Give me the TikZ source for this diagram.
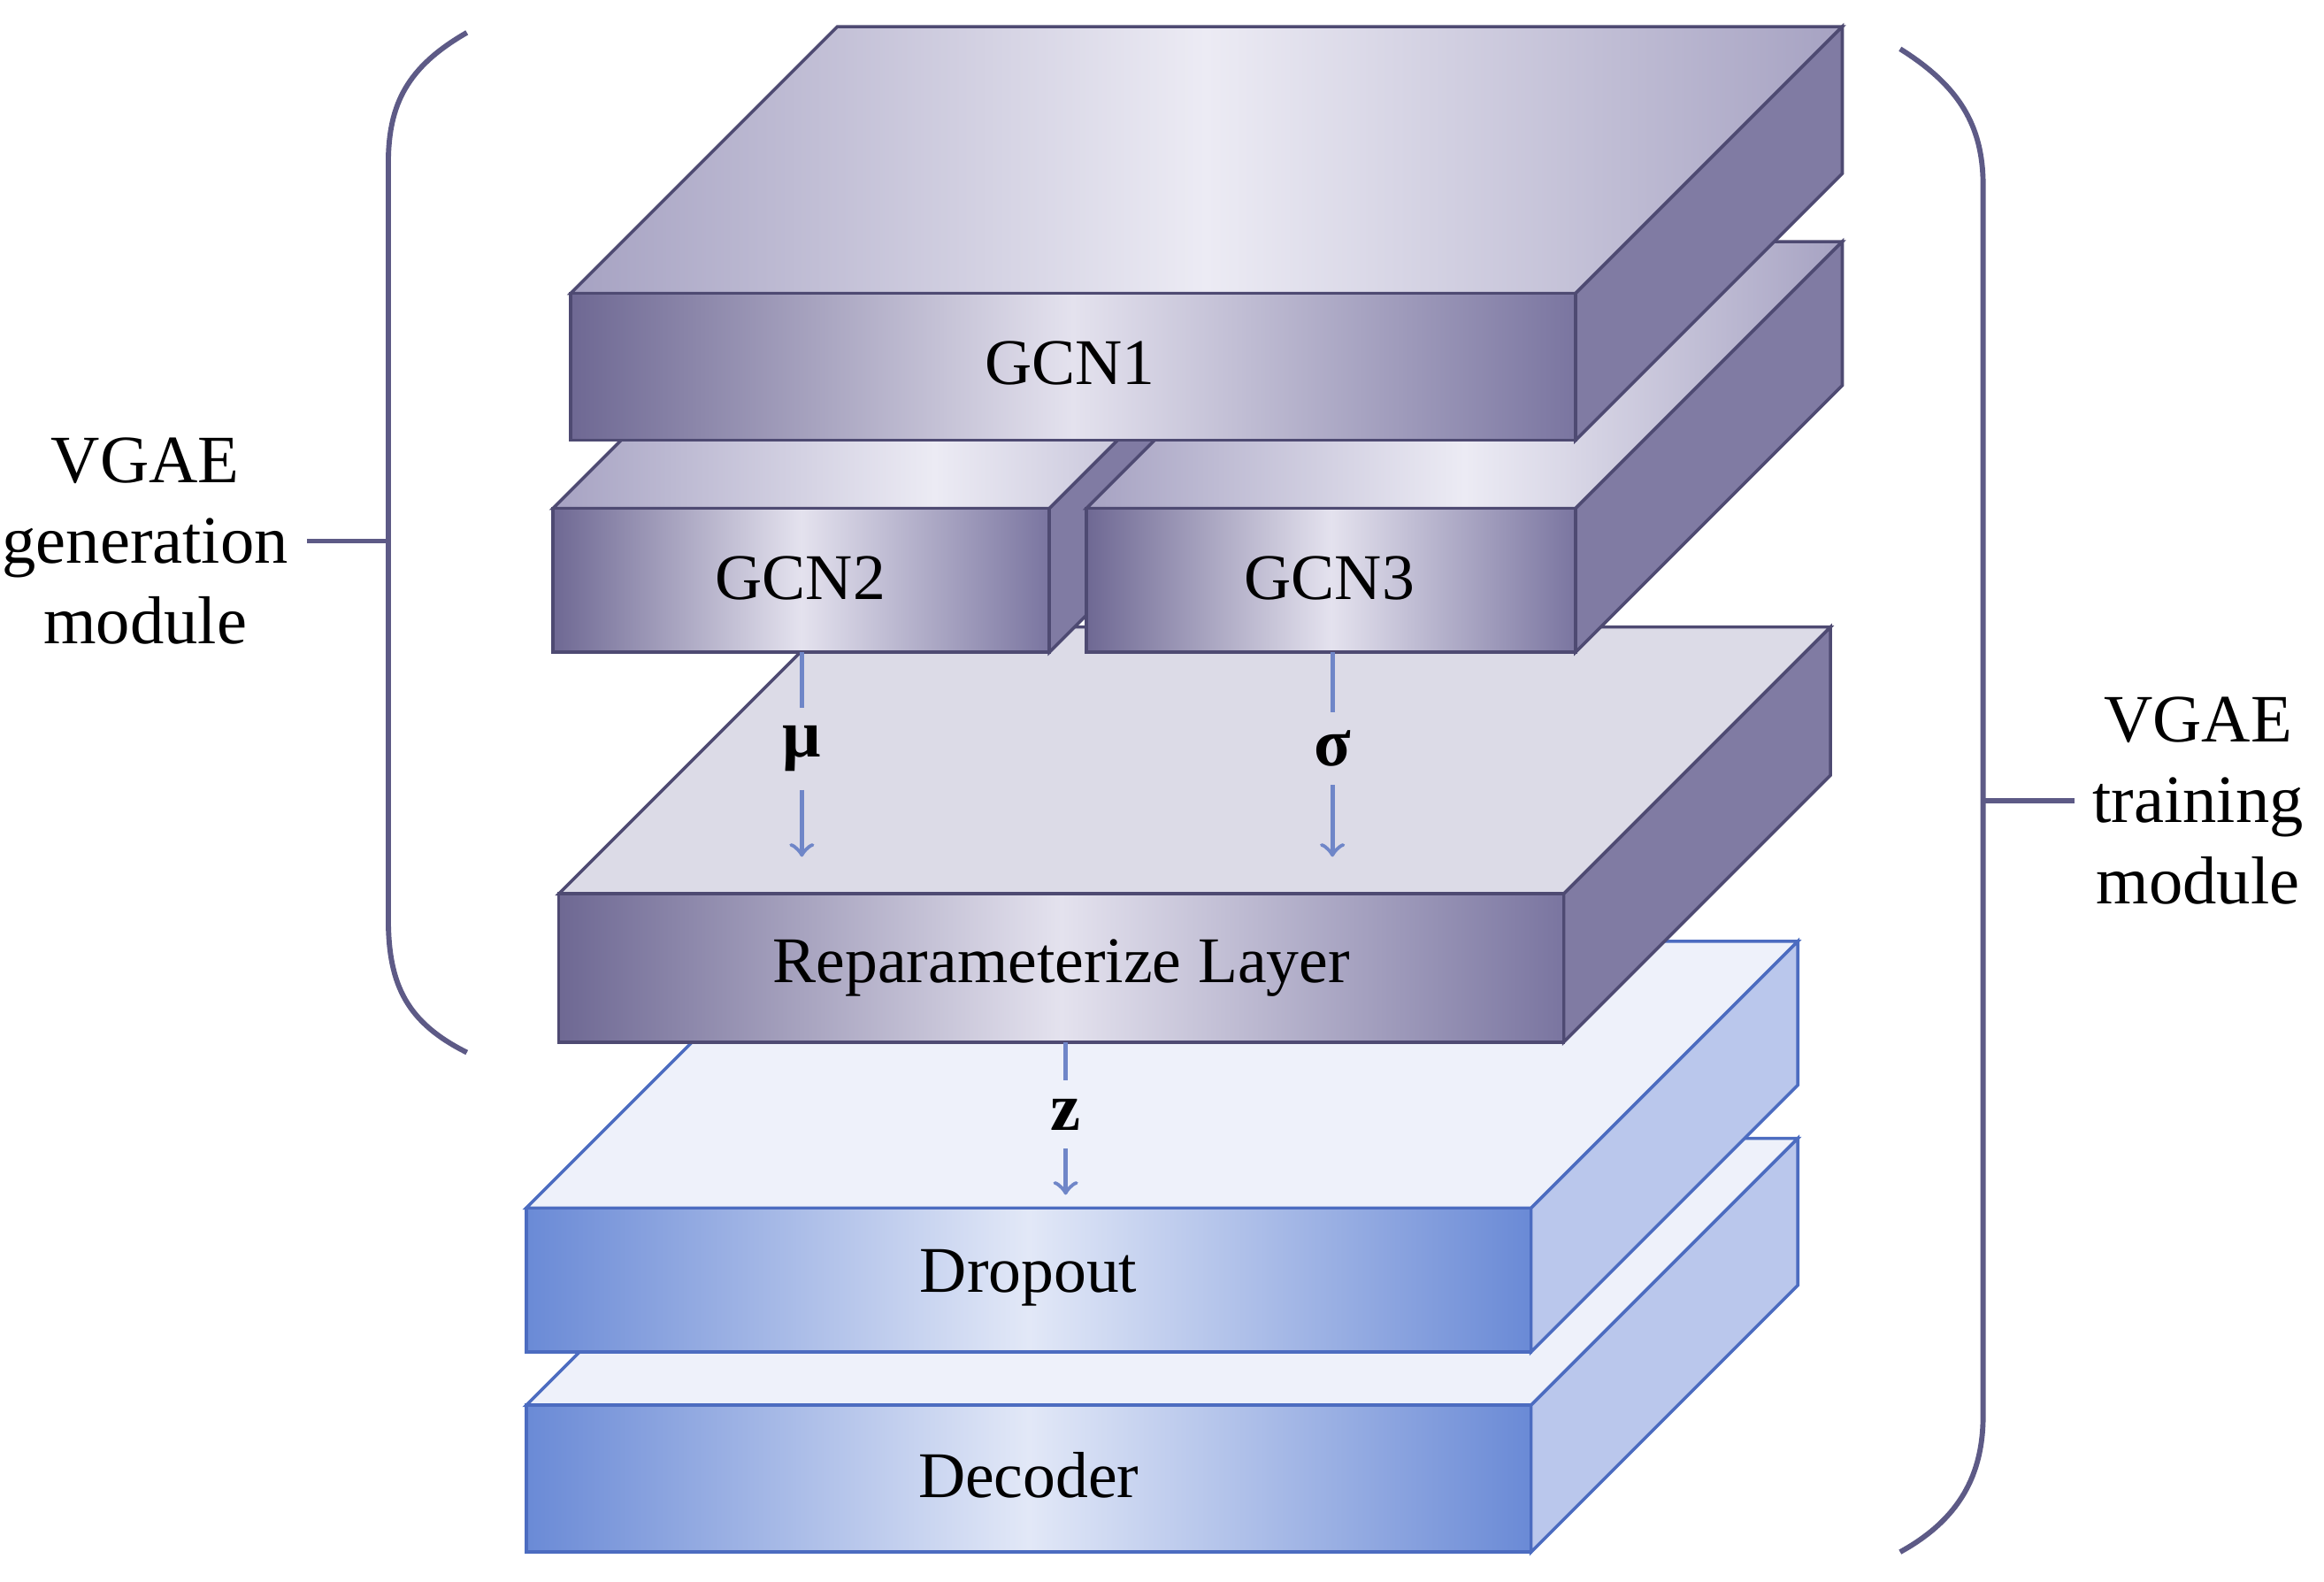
\documentclass[tikz,border=0pt]{standalone}
\usepackage{fontspec}
\setmainfont{Liberation Serif}
\begin{document}
\begin{tikzpicture}[x=0.01cm,y=-0.01cm,
  pfront/.style={left color=pdark,right color=pdark2,middle color=plight,draw=pedge,line width=0.6pt},
  ptop/.style={left color=ptopA,right color=ptopA,middle color=ptopB,draw=pedge,line width=0.6pt},
  pside/.style={fill=pside,draw=pedge,line width=0.6pt},
  rtop/.style={fill=rtop,draw=pedge,line width=0.6pt},
  bfront/.style={left color=bdark,right color=bdark,middle color=blight,draw=bedge,line width=0.6pt},
  btop/.style={fill=btop,draw=bedge,line width=0.6pt},
  bside/.style={fill=bside,draw=bedge,line width=0.6pt},
  lbl/.style={font=\fontsize{12.5}{14}\selectfont},
  sym/.style={font=\bfseries\fontsize{13}{14}\selectfont},
  conn/.style={draw=lineblue,line width=0.8pt},
  brace/.style={draw=braceC,line width=1pt}]
\definecolor{pdark}{HTML}{6E6893}\definecolor{pdark2}{HTML}{7A75A0}
\definecolor{plight}{HTML}{E4E2EE}\definecolor{pedge}{HTML}{4E4A72}
\definecolor{ptopA}{HTML}{A6A2C2}\definecolor{ptopB}{HTML}{ECEBF4}
\definecolor{pside}{HTML}{807BA3}\definecolor{rtop}{HTML}{DCDBE7}
\definecolor{bdark}{HTML}{6A8AD6}\definecolor{blight}{HTML}{E2E8F7}
\definecolor{bedge}{HTML}{4C6CC0}\definecolor{btop}{HTML}{EEF1FA}
\definecolor{bside}{HTML}{BAC7EC}\definecolor{lineblue}{HTML}{6F86C8}
\definecolor{braceC}{HTML}{5D5A86}
\useasboundingbox (0,0) rectangle (1568,1067);
\newcommand\myslab[6]{%
  \path[#6] (#2,#4) -- ++(180,-180) -- ++(#3-#2,0) -- (#3,#4) -- cycle;
  \path[#1side] (#3,#4) -- ++(180,-180) -- ++(0,#5-#4) -- (#3,#5) -- cycle;
  \path[#1front] (#2,#4) rectangle (#3,#5);}
\myslab{b}{355}{1033}{948}{1047}{btop}
\myslab{b}{355}{1033}{815}{912}{btop}
\myslab{p}{377}{1055}{603}{703}{rtop}
\myslab{p}{373}{708}{343}{440}{ptop}
\myslab{p}{733}{1063}{343}{440}{ptop}
\myslab{p}{385}{1063}{198}{297}{ptop}
\node[lbl] (g1) at (722,245) {GCN1};
\node[lbl] (g2) at (540,390) {GCN2};
\node[lbl] (g3) at (897,390) {GCN3};
\node[lbl] (rp) at (716,653) {Reparameterize Layer};
\node[lbl] (dr) at (694,862) {Dropout};
\node[lbl] (de) at (694,995) {Decoder};
\node[sym] (mu) at (541,505) {μ};
\node[sym] (sg) at (899,505) {σ};
\node[sym] (z) at (719,752) {z};
\coordinate (a1) at (541,440); \coordinate (a2) at (541,578);
\coordinate (b1) at (899,440); \coordinate (b2) at (899,578);
\coordinate (c1) at (719,703); \coordinate (c2) at (719,806);
\draw[conn] (a1) -- (mu.north); \draw[conn,->] (mu.south) -- (a2);
\draw[conn] (b1) -- (sg.north); \draw[conn,->] (sg.south) -- (b2);
\draw[conn] (c1) -- (z.north); \draw[conn,->] (z.south) -- (c2);
\draw[brace] (315,22) .. controls (275,45) and (262,70) .. (262,110) -- (262,620) .. controls (262,665) and (275,690) .. (315,710);
\draw[brace] (1282,33) .. controls (1322,58) and (1338,85) .. (1338,125) -- (1338,955) .. controls (1338,995) and (1322,1025) .. (1282,1047);
\node[lbl,align=center,font=\fontsize{13}{15.5}\selectfont] (lg) at (98,365) {VGAE\\generation\\module};
\node[lbl,align=center,font=\fontsize{13}{15.5}\selectfont] (lt) at (1483,540) {VGAE\\training\\module};
\coordinate (lb) at (262,365); \coordinate (rb) at (1338,540);
\draw[brace] (lb) -- (lg.east);
\draw[brace] (rb) -- (lt.west);
\end{tikzpicture}
\end{document}
